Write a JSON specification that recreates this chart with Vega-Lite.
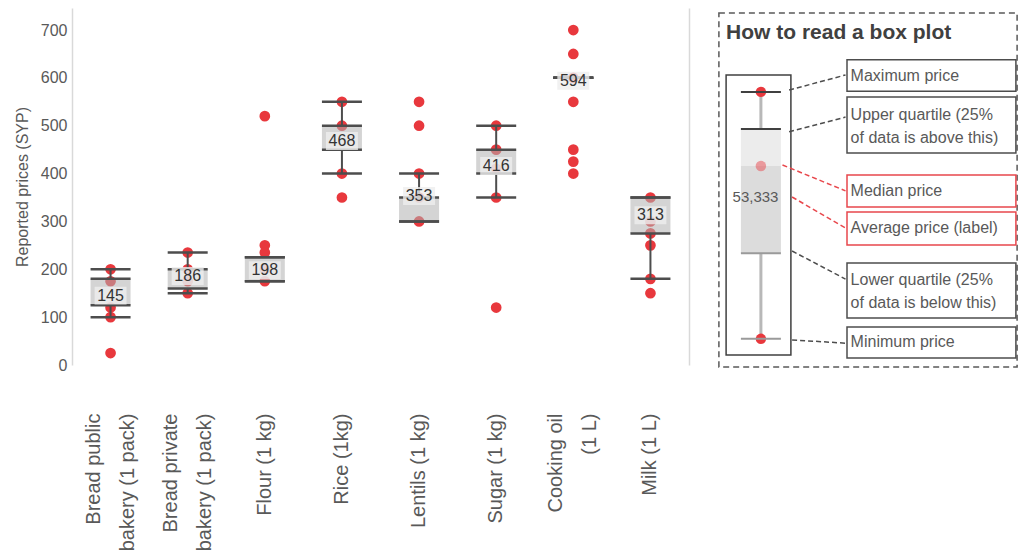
{
  "$schema": "https://vega.github.io/schema/vega-lite/v6.json",
  "background": "white",
  "padding": {"left": 14, "top": 8, "right": 0, "bottom": 0},
  "config": {
    "font": "Liberation Sans",
    "view": {"stroke": null},
    "concat": {"spacing": 29}
  },
  "datasets": {
    "points": [
      {"item": "Bread public|bakery (1 pack)", "price": 200},
      {"item": "Bread public|bakery (1 pack)", "price": 175},
      {"item": "Bread public|bakery (1 pack)", "price": 120},
      {"item": "Bread public|bakery (1 pack)", "price": 100},
      {"item": "Bread public|bakery (1 pack)", "price": 25},
      {"item": "Bread private|bakery (1 pack)", "price": 235},
      {"item": "Bread private|bakery (1 pack)", "price": 200},
      {"item": "Bread private|bakery (1 pack)", "price": 175},
      {"item": "Bread private|bakery (1 pack)", "price": 150},
      {"item": "Flour (1 kg)", "price": 520},
      {"item": "Flour (1 kg)", "price": 250},
      {"item": "Flour (1 kg)", "price": 235},
      {"item": "Flour (1 kg)", "price": 200},
      {"item": "Flour (1 kg)", "price": 175},
      {"item": "Rice (1kg)", "price": 550},
      {"item": "Rice (1kg)", "price": 500},
      {"item": "Rice (1kg)", "price": 400},
      {"item": "Rice (1kg)", "price": 350},
      {"item": "Lentils (1 kg)", "price": 550},
      {"item": "Lentils (1 kg)", "price": 500},
      {"item": "Lentils (1 kg)", "price": 400},
      {"item": "Lentils (1 kg)", "price": 350},
      {"item": "Lentils (1 kg)", "price": 300},
      {"item": "Sugar (1 kg)", "price": 500},
      {"item": "Sugar (1 kg)", "price": 450},
      {"item": "Sugar (1 kg)", "price": 410},
      {"item": "Sugar (1 kg)", "price": 350},
      {"item": "Sugar (1 kg)", "price": 120},
      {"item": "Cooking oil|(1 L)", "price": 700},
      {"item": "Cooking oil|(1 L)", "price": 650},
      {"item": "Cooking oil|(1 L)", "price": 600},
      {"item": "Cooking oil|(1 L)", "price": 550},
      {"item": "Cooking oil|(1 L)", "price": 450},
      {"item": "Cooking oil|(1 L)", "price": 425},
      {"item": "Cooking oil|(1 L)", "price": 400},
      {"item": "Milk (1 L)", "price": 350},
      {"item": "Milk (1 L)", "price": 300},
      {"item": "Milk (1 L)", "price": 275},
      {"item": "Milk (1 L)", "price": 250},
      {"item": "Milk (1 L)", "price": 180},
      {"item": "Milk (1 L)", "price": 150}
    ],
    "summary": [
      {"item": "Bread public|bakery (1 pack)", "min": 100, "q1": 125, "q3": 180, "max": 200, "mean": 145},
      {"item": "Bread private|bakery (1 pack)", "min": 150, "q1": 160, "q3": 200, "max": 235, "mean": 186},
      {"item": "Flour (1 kg)", "min": 175, "q1": 175, "q3": 225, "max": 225, "mean": 198},
      {"item": "Rice (1kg)", "min": 400, "q1": 450, "q3": 500, "max": 550, "mean": 468},
      {"item": "Lentils (1 kg)", "min": 300, "q1": 300, "q3": 350, "max": 400, "mean": 353},
      {"item": "Sugar (1 kg)", "min": 350, "q1": 400, "q3": 450, "max": 500, "mean": 416},
      {"item": "Cooking oil|(1 L)", "min": 600, "q1": 600, "q3": 600, "max": 600, "mean": 594},
      {"item": "Milk (1 L)", "min": 180, "q1": 275, "q3": 350, "max": 350, "mean": 313}
    ],
    "sample": [
      {"min": 8.1, "q1": 31.9, "median": 56.1, "q3": 66.4, "max": 76.7, "mean": 47.5, "meanLabel": "53,333"}
    ],
    "guide": [
      {"label": "Maximum price", "tone": "gray", "boxTop": 85.6, "boxBottom": 76.9, "textY": 81.2, "lineFrom": 77.2, "lineTo": 81.4, "lineStart": 23.7},
      {"label": "Upper quartile (25%|of data is above this)", "tone": "gray", "boxTop": 75.3, "boxBottom": 59.7, "textY": 70.3, "lineFrom": 65.6, "lineTo": 69.7, "lineStart": 23.7},
      {"label": "Median price", "tone": "red", "boxTop": 53.6, "boxBottom": 44.7, "textY": 49.2, "lineFrom": 56.4, "lineTo": 49.2, "lineStart": 21.5},
      {"label": "Average price (label)", "tone": "red", "boxTop": 43.3, "boxBottom": 34.2, "textY": 38.8, "lineFrom": 47.5, "lineTo": 38.9, "lineStart": 24.7},
      {"label": "Lower quartile (25%|of data is below this)", "tone": "gray", "boxTop": 29.2, "boxBottom": 13.9, "textY": 24.4, "lineFrom": 32.5, "lineTo": 24.7, "lineStart": 24.7},
      {"label": "Minimum price", "tone": "gray", "boxTop": 11.4, "boxBottom": 2.8, "textY": 7.1, "lineFrom": 7.8, "lineTo": 6.9, "lineStart": 24.7}
    ],
    "frame": [
      {"part": "outer", "left": 0.3, "right": 99.7, "bottom": 0.3, "top": 98.6},
      {"part": "sample", "left": 2.7, "right": 24.3, "bottom": 3.6, "top": 81.4}
    ]
  },
  "hconcat": [
    {
      "width": 617,
      "height": 357,
      "resolve": {"axis": {"y": "independent"}},
      "layer": [
        {
          "data": {"name": "points"},
          "mark": {"type": "circle", "size": 115, "opacity": 1, "color": "#e8383d"},
          "encoding": {
            "x": {
              "field": "item", "type": "nominal",
              "scale": {"domain": ["Bread public|bakery (1 pack)", "Bread private|bakery (1 pack)", "Flour (1 kg)", "Rice (1kg)", "Lentils (1 kg)", "Sugar (1 kg)", "Cooking oil|(1 L)", "Milk (1 L)"], "paddingInner": 0, "paddingOuter": 0},
              "axis": {
                "title": null, "labelAngle": 270, "labelAlign": "right",
                "labelBaseline": {"condition": {"test": "indexof(datum.value, '|') >= 0", "value": "line-bottom"}, "value": "middle"},
                "labelFontSize": 20, "labelColor": "#595959", "labelPadding": 48, "labelLineHeight": 34,
                "labelLimit": 0, "ticks": false, "domain": false, "grid": false,
                "labelExpr": "split(datum.label, '|')"
              }
            },
            "y": {
              "field": "price", "type": "quantitative",
              "scale": {"domain": [0, 746], "nice": false, "zero": false, "padding": 0},
              "axis": {
                "values": [0, 100, 200, 300, 400, 500, 600, 700], "grid": false, "ticks": false,
                "labelFontSize": 16, "labelColor": "#595959", "labelPadding": 5,
                "domainColor": "#d9d9d9", "domainWidth": 1.5,
                "title": "Reported prices (SYP)", "titleFontSize": 16, "titleFontWeight": "normal",
                "titleColor": "#595959", "titlePadding": 10
              }
            }
          }
        },
        {
          "data": {"name": "summary"},
          "mark": {"type": "bar", "size": 40, "color": "#b0b0b0", "opacity": 0.55},
          "encoding": {
            "x": {"field": "item", "type": "nominal"},
            "y": {"field": "q1", "type": "quantitative", "axis": null},
            "y2": {"field": "q3"}
          }
        },
        {
          "data": {"name": "summary"},
          "mark": {"type": "rule", "color": "#4d4d4d", "strokeWidth": 2},
          "encoding": {
            "x": {"field": "item", "type": "nominal"},
            "y": {"field": "q3", "type": "quantitative", "axis": null},
            "y2": {"field": "max"}
          }
        },
        {
          "data": {"name": "summary"},
          "mark": {"type": "rule", "color": "#4d4d4d", "strokeWidth": 2},
          "encoding": {
            "x": {"field": "item", "type": "nominal"},
            "y": {"field": "min", "type": "quantitative", "axis": null},
            "y2": {"field": "q1"}
          }
        },
        {
          "data": {"name": "summary"},
          "transform": [{"fold": ["min", "q1", "q3", "max"], "as": ["stat", "level"]}],
          "mark": {"type": "tick", "size": 40, "thickness": 2.5, "color": "#4d4d4d", "opacity": 1},
          "encoding": {
            "x": {"field": "item", "type": "nominal"},
            "y": {"field": "level", "type": "quantitative", "axis": null}
          }
        },
        {
          "data": {"name": "summary"},
          "mark": {"type": "point", "shape": "M-1,-0.56H1V0.56H-1Z", "size": 1024, "filled": true, "color": "#ededed", "opacity": 0.8, "strokeWidth": 0},
          "encoding": {
            "x": {"field": "item", "type": "nominal"},
            "y": {"field": "mean", "type": "quantitative", "axis": null}
          }
        },
        {
          "data": {"name": "summary"},
          "mark": {"type": "text", "fontSize": 16, "color": "#333333", "baseline": "middle", "align": "center"},
          "encoding": {
            "x": {"field": "item", "type": "nominal"},
            "y": {
              "field": "mean", "type": "quantitative",
              "axis": {"orient": "right", "labels": false, "ticks": false, "grid": false, "title": null, "domainColor": "#d9d9d9", "domainWidth": 1.5}
            },
            "text": {"field": "mean", "type": "quantitative"}
          }
        }
      ]
    },
    {
      "width": 300,
      "height": 360,
      "layer": [
        {
          "data": {"name": "frame"},
          "transform": [{"filter": "datum.part == 'outer'"}],
          "mark": {"type": "rect", "fill": null, "stroke": "#595959", "strokeWidth": 1.5, "strokeDash": [6, 4]},
          "encoding": {
            "x": {"field": "left", "type": "quantitative", "scale": {"domain": [0, 100], "nice": false, "zero": false, "padding": 0}, "axis": null},
            "x2": {"field": "right"},
            "y": {"field": "bottom", "type": "quantitative", "scale": {"domain": [0, 100], "nice": false, "zero": false, "padding": 0}, "axis": null},
            "y2": {"field": "top"}
          }
        },
        {
          "data": {"name": "frame"},
          "transform": [{"filter": "datum.part == 'sample'"}],
          "mark": {"type": "rect", "fill": null, "stroke": "#404040", "strokeWidth": 1.5},
          "encoding": {
            "x": {"field": "left", "type": "quantitative", "axis": null},
            "x2": {"field": "right"},
            "y": {"field": "bottom", "type": "quantitative", "axis": null},
            "y2": {"field": "top"}
          }
        },
        {
          "data": {"values": [{"heading": "How to read a box plot"}]},
          "mark": {"type": "text", "fontSize": 21, "fontWeight": "bold", "color": "#404040", "align": "left", "baseline": "middle"},
          "encoding": {
            "x": {"datum": 2.7, "type": "quantitative", "axis": null},
            "y": {"datum": 93.1, "type": "quantitative", "axis": null},
            "text": {"field": "heading"}
          }
        },
        {
          "data": {"name": "sample"},
          "mark": {"type": "rule", "color": "#b8b8b8", "strokeWidth": 3},
          "encoding": {
            "x": {"datum": 14.3, "type": "quantitative", "axis": null},
            "y": {"field": "min", "type": "quantitative", "axis": null},
            "y2": {"field": "max"}
          }
        },
        {
          "data": {"name": "sample"},
          "mark": {"type": "bar", "size": 40, "color": "#dcdcdc"},
          "encoding": {
            "x": {"datum": 14.3, "type": "quantitative", "axis": null},
            "y": {"field": "q1", "type": "quantitative", "axis": null},
            "y2": {"field": "median"}
          }
        },
        {
          "data": {"name": "sample"},
          "mark": {"type": "bar", "size": 40, "color": "#ececec"},
          "encoding": {
            "x": {"datum": 14.3, "type": "quantitative", "axis": null},
            "y": {"field": "median", "type": "quantitative", "axis": null},
            "y2": {"field": "q3"}
          }
        },
        {
          "data": {"name": "sample"},
          "transform": [{"fold": ["max", "min"], "as": ["stat", "level"]}],
          "mark": {"type": "circle", "size": 110, "color": "#e8383d", "opacity": 1},
          "encoding": {
            "x": {"datum": 14.3, "type": "quantitative", "axis": null},
            "y": {"field": "level", "type": "quantitative", "axis": null}
          }
        },
        {
          "data": {"name": "sample"},
          "mark": {"type": "circle", "size": 110, "color": "#e8383d", "opacity": 0.45},
          "encoding": {
            "x": {"datum": 14.3, "type": "quantitative", "axis": null},
            "y": {"field": "median", "type": "quantitative", "axis": null}
          }
        },
        {
          "data": {"name": "sample"},
          "transform": [{"fold": ["max", "q3"], "as": ["stat", "level"]}],
          "mark": {"type": "tick", "orient": "horizontal", "size": 40, "thickness": 2, "color": "#404040", "opacity": 1},
          "encoding": {
            "x": {"datum": 14.3, "type": "quantitative", "axis": null},
            "y": {"field": "level", "type": "quantitative", "axis": null}
          }
        },
        {
          "data": {"name": "sample"},
          "transform": [{"fold": ["q1", "min"], "as": ["stat", "level"]}],
          "mark": {"type": "tick", "orient": "horizontal", "size": 40, "thickness": 2, "color": "#9a9a9a", "opacity": 1},
          "encoding": {
            "x": {"datum": 14.3, "type": "quantitative", "axis": null},
            "y": {"field": "level", "type": "quantitative", "axis": null}
          }
        },
        {
          "data": {"name": "sample"},
          "mark": {"type": "text", "fontSize": 15, "color": "#595959", "align": "center", "baseline": "middle"},
          "encoding": {
            "x": {"datum": 12.5, "type": "quantitative", "axis": null},
            "y": {"field": "mean", "type": "quantitative", "axis": null},
            "text": {"field": "meanLabel"}
          }
        },
        {
          "data": {"name": "guide"},
          "mark": {"type": "rule", "strokeWidth": 1.5, "strokeDash": [5, 3]},
          "encoding": {
            "x": {"field": "lineStart", "type": "quantitative", "axis": null},
            "x2": {"datum": 42.5},
            "y": {"field": "lineFrom", "type": "quantitative", "axis": null},
            "y2": {"field": "lineTo"},
            "color": {"field": "tone", "type": "nominal", "scale": {"domain": ["gray", "red"], "range": ["#4d4d4d", "#e8474c"]}, "legend": null}
          }
        },
        {
          "data": {"name": "guide"},
          "mark": {"type": "rect", "fill": "white", "strokeWidth": 1.5},
          "encoding": {
            "x": {"datum": 43, "type": "quantitative", "axis": null},
            "x2": {"datum": 99.3},
            "y": {"field": "boxBottom", "type": "quantitative", "axis": null},
            "y2": {"field": "boxTop"},
            "stroke": {"field": "tone", "type": "nominal", "scale": {"domain": ["gray", "red"], "range": ["#4d4d4d", "#e8474c"]}, "legend": null}
          }
        },
        {
          "data": {"name": "guide"},
          "transform": [{"calculate": "split(datum.label, '|')", "as": "lines"}],
          "mark": {"type": "text", "fontSize": 16, "color": "#595959", "align": "left", "baseline": "middle", "lineHeight": 23},
          "encoding": {
            "x": {"datum": 44.2, "type": "quantitative", "axis": null},
            "y": {"field": "textY", "type": "quantitative", "axis": null},
            "text": {"field": "lines"}
          }
        }
      ]
    }
  ]
}
